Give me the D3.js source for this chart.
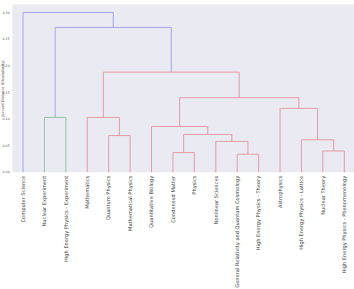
<!DOCTYPE html>
<html>
<head>
<meta charset="utf-8">
<script src="https://cdn.jsdelivr.net/npm/d3@7"></script>
<style>
  body { margin: 0; background: #fff; }
  svg { display: block; }
</style>
</head>
<body>
<script>
// leaves in display order
var leafNames = ["Computer Science", "Nuclear Experiment", "High Energy Physics - Experiment",
  "Mathematics", "Quantum Physics", "Mathematical Physics", "Quantitative Biology",
  "Condensed Matter", "Physics", "Nonlinear Sciences", "General Relativity and Quantum Cosmology",
  "High Energy Physics - Theory", "Astrophysics", "High Energy Physics - Lattice",
  "Nuclear Theory", "High Energy Physics - Phenomenology"];

// linkage rows (scipy style: id >= 16 means merge row id-16)
var mergeLeft   = [10, 7, 14, 9, 13, 4, 17, 6, 3, 1, 12, 23, 24, 25, 0];
var mergeRight  = [11, 8, 15, 16, 18, 5, 19, 22, 21, 2, 20, 26, 27, 28, 29];
var mergeHeight = [0.034, 0.037, 0.040, 0.058, 0.061, 0.069, 0.071, 0.086, 0.103, 0.103, 0.120, 0.140, 0.188, 0.272, 0.300];
var mergeGroup  = ["r", "r", "r", "r", "r", "r", "r", "r", "r", "g", "r", "r", "r", "b", "b"];

var yTicks = [0, 0.05, 0.10, 0.15, 0.20, 0.25, 0.30];

var W = 354, H = 289;
var mLeft = 12.3, mTop = 4.5, mBottom = 172.3;
var n = leafNames.length;

var colors = { r: "#e8939b", g: "#8fbf96", b: "#9c9cef" };

var svg = d3.select("body").append("svg")
    .attr("width", W)
    .attr("height", H);

var x = d3.scaleLinear().domain([0, n * 10]).range([mLeft, mLeft + n * 10 * 2.142]);
var maxH = d3.max(mergeHeight);
var y = d3.scaleLinear().domain([0, maxH * 1.05]).range([mBottom, mTop]);

svg.append("rect")
    .attr("x", x(0)).attr("y", y(maxH * 1.05))
    .attr("width", x(n * 10) - x(0))
    .attr("height", y(0) - y(maxH * 1.05))
    .attr("fill", "#eaeaf2");

// node positions
var posX = [], posY = [];
for (var i = 0; i < n; i++) { posX[i] = 5 + 10 * i; posY[i] = 0; }
for (var j = 0; j < mergeHeight.length; j++) {
  var a = mergeLeft[j], b = mergeRight[j];
  posX[n + j] = (posX[a] + posX[b]) / 2;
  posY[n + j] = mergeHeight[j];
}

var links = svg.append("g");
for (var j = 0; j < mergeHeight.length; j++) {
  var a = mergeLeft[j], b = mergeRight[j];
  var pts = [[posX[a], posY[a]], [posX[a], mergeHeight[j]], [posX[b], mergeHeight[j]], [posX[b], posY[b]]];
  links.append("path")
    .attr("d", d3.line().x(function(d) { return x(d[0]); }).y(function(d) { return y(d[1]); })(pts))
    .attr("fill", "none")
    .attr("stroke", colors[mergeGroup[j]])
    .attr("stroke-width", 0.9);
}

// y axis labels
svg.append("g").selectAll("text")
  .data(yTicks)
  .enter().append("text")
    .attr("x", mLeft - 2.5)
    .attr("y", function(d) { return y(d); })
    .attr("dy", "0.35em")
    .attr("text-anchor", "end")
    .attr("font-family", "DejaVu Sans, sans-serif")
    .attr("font-size", 3.3)
    .attr("fill", "#555")
    .text(function(d) { return d3.format(".2f")(d); });

svg.append("text")
    .attr("transform", "translate(2.3," + ((mTop + mBottom) / 2) + ") rotate(-90)")
    .attr("text-anchor", "middle")
    .attr("dy", "0.35em")
    .attr("font-family", "DejaVu Sans, sans-serif")
    .attr("font-size", 3.6)
    .attr("fill", "#555")
    .text("Jaccard Distance (Dissimilarity)");

// leaf labels
svg.append("g").selectAll("text")
  .data(leafNames)
  .enter().append("text")
    .attr("transform", function(d, i) { return "translate(" + x(5 + 10 * i) + "," + (mBottom + 3.5) + ") rotate(-90)"; })
    .attr("text-anchor", "end")
    .attr("dy", "0.35em")
    .attr("font-family", "DejaVu Sans, sans-serif")
    .attr("font-size", 5.1)
    .attr("fill", "#444")
    .text(function(d) { return d; });
</script>
</body>
</html>
